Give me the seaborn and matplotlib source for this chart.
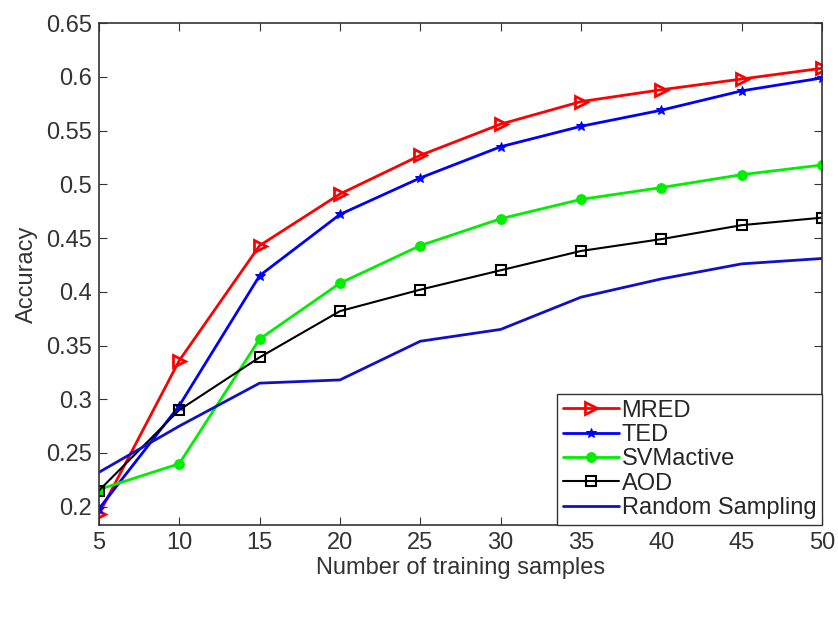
import matplotlib
matplotlib.use("Agg")
import matplotlib.pyplot as plt
import seaborn as sns

# data
samples = [5, 10, 15, 20, 25, 30, 35, 40, 45, 50]
mred = [0.193, 0.336, 0.443, 0.491, 0.527, 0.556, 0.577, 0.588, 0.598, 0.608]
ted = [0.198, 0.294, 0.415, 0.472, 0.506, 0.535, 0.554, 0.569, 0.587, 0.599]
svmactive = [0.216, 0.240, 0.356, 0.408, 0.443, 0.468, 0.486, 0.497, 0.509, 0.518]
aod = [0.215, 0.290, 0.339, 0.382, 0.402, 0.420, 0.438, 0.449, 0.462, 0.469]
random_sampling = [0.232, 0.275, 0.315, 0.318, 0.354, 0.365, 0.395, 0.412, 0.426, 0.431]

sns.set_style("ticks")
plt.rcParams["font.family"] = ["Liberation Sans", "DejaVu Sans"]

fig = plt.figure(figsize=(8.38, 6.25), dpi=100)
ax = fig.add_axes([0.118, 0.16, 0.863, 0.803])

sns.lineplot(x=samples, y=mred, ax=ax, color="#ff0000", marker=">", markersize=8,
             markerfacecolor="none", markeredgecolor="#ff0000", markeredgewidth=2,
             linewidth=2, label="MRED")
sns.lineplot(x=samples, y=ted, ax=ax, color="#0000ff", marker="*", markersize=7,
             markeredgecolor="#0000ff", linewidth=2, label="TED")
sns.lineplot(x=samples, y=svmactive, ax=ax, color="#00ee00", marker="o", markersize=7,
             markeredgecolor="#00ee00", linewidth=2, label="SVMactive")
sns.lineplot(x=samples, y=aod, ax=ax, color="black", marker="s", markersize=7,
             markerfacecolor="none", markeredgecolor="black", markeredgewidth=1.5,
             linewidth=1.5, label="AOD")
sns.lineplot(x=samples, y=random_sampling, ax=ax, color="#1010c8", linewidth=2,
             label="Random Sampling")

ax.set_xlim(5, 50)
ax.set_ylim(0.183, 0.65)
ax.set_xticks(samples)
ax.set_yticks([0.2, 0.25, 0.3, 0.35, 0.4, 0.45, 0.5, 0.55, 0.6, 0.65])
ax.set_yticklabels(["0.2", "0.25", "0.3", "0.35", "0.4", "0.45", "0.5", "0.55", "0.6", "0.65"])
ax.tick_params(direction="in", length=6, labelsize=17, top=True, right=True,
               colors="#333333", pad=5)
for s in ax.spines.values():
    s.set_visible(True)
    s.set_color("#333333")
    s.set_linewidth(1.2)

ax.set_xlabel("Number of training samples", fontsize=17, color="#333333", labelpad=2)
ax.set_ylabel("Accuracy", fontsize=17, color="#333333", labelpad=6)

leg = ax.legend(loc="lower right", fontsize=17, frameon=True, fancybox=False,
                handlelength=2.4, handletextpad=0.1, borderaxespad=0,
                borderpad=0.25, labelspacing=0.1)
leg.get_frame().set_edgecolor("#333333")
leg.get_frame().set_linewidth(1.0)
leg.get_frame().set_alpha(1)

fig.savefig("out.png", dpi=100)
